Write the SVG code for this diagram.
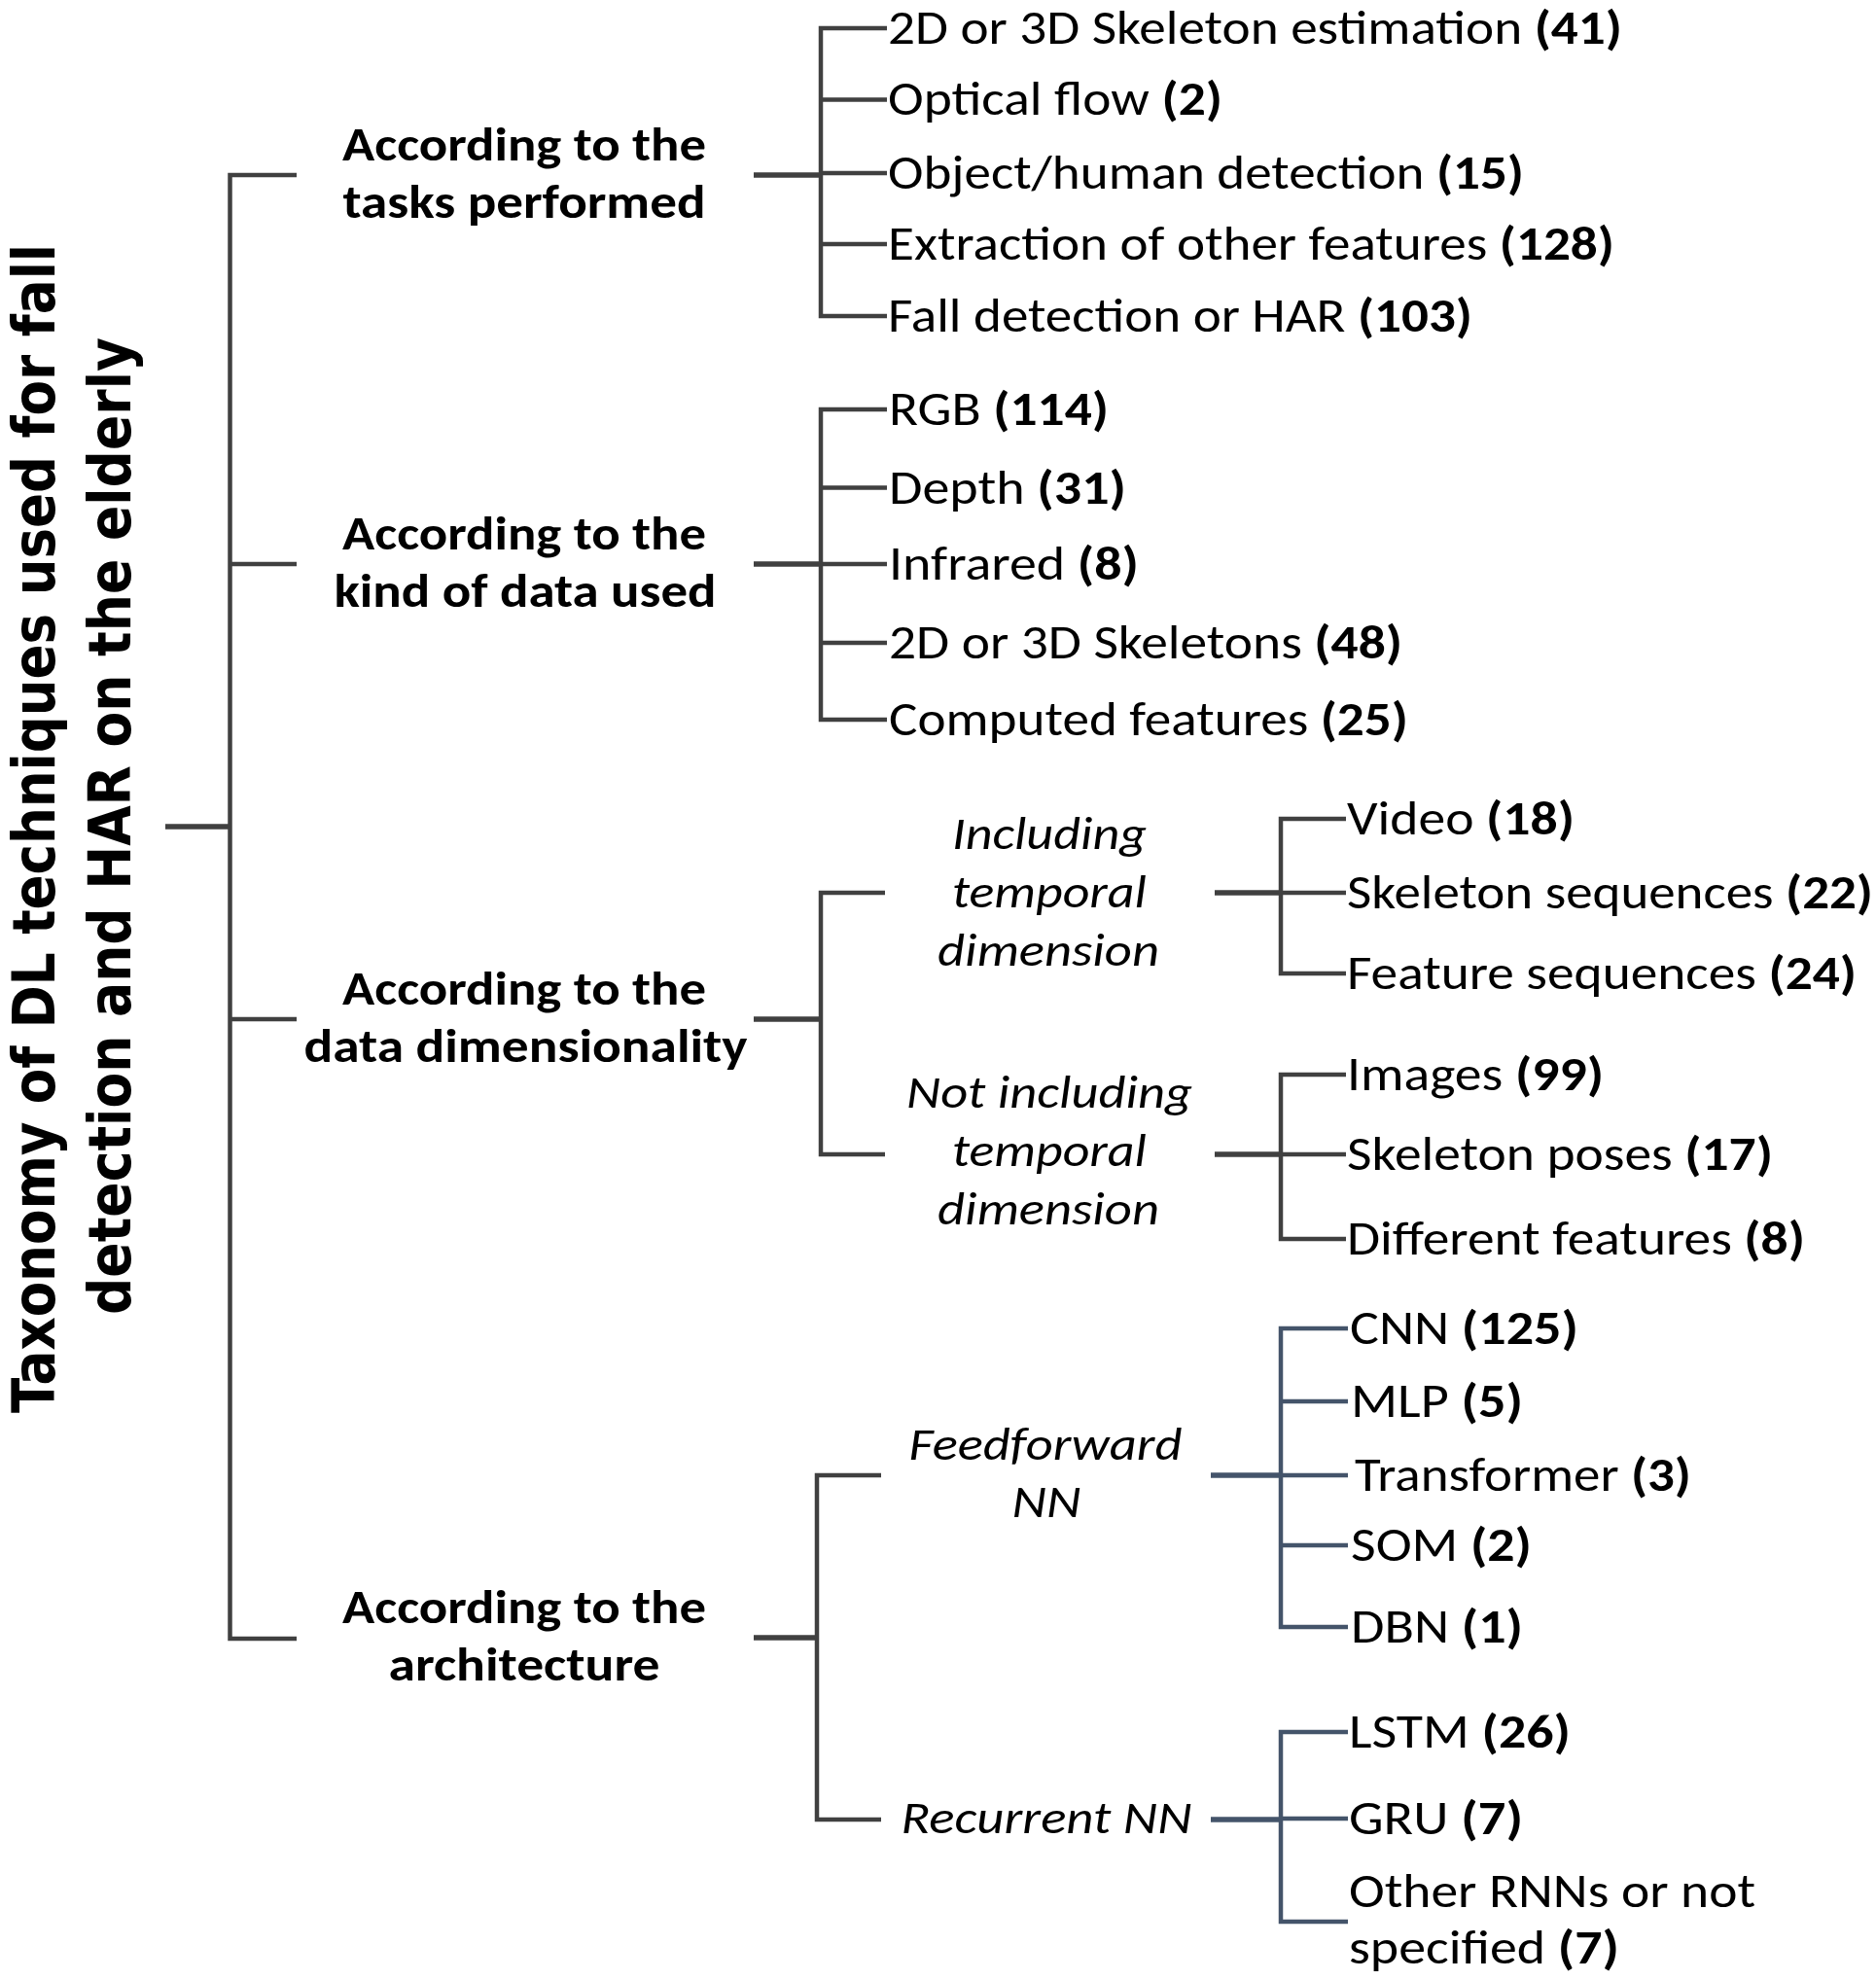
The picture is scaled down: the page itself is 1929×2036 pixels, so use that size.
<svg xmlns="http://www.w3.org/2000/svg" width="1929" height="2036" viewBox="0 0 1929 2036">
<style>
.ln{fill:none;stroke:#404040;stroke-width:4.5;stroke-linecap:butt;stroke-linejoin:miter}
.st{fill:none;stroke:#404040;stroke-width:5.5}
.bl{fill:none;stroke:#44546A;stroke-width:4.5;stroke-linejoin:miter}
.bls{fill:none;stroke:#44546A;stroke-width:5.5}
text{fill:#000;font-family:Carlito,Lato,"Open Sans",sans-serif}
.title{font-family:"DejaVu Sans",Verdana,sans-serif;font-weight:bold;font-size:60px;font-stretch:condensed}
.l1{font-weight:bold;font-size:48px}
.l2{font-style:italic;font-size:48px}
.lf{font-size:49px}
.b{font-weight:bold}
</style>
<rect width="1929" height="2036" fill="#fff"/>
<g id="connectors">
<path class="st" d="M170 850H236.5"/>
<path class="ln" d="M305 180H236.5V1685H305M236.5 580H305M236.5 1048H305"/>
<path class="st" d="M775 180H844"/>
<path class="ln" d="M912 29H844V325H912M844 102.5H912M844 178H912M844 251H912"/>
<path class="st" d="M775 580H844"/>
<path class="ln" d="M912 421H844V740H912M844 501.5H912M844 580H912M844 661H912"/>
<path class="st" d="M775 1048H844"/>
<path class="ln" d="M910 918H844V1187H910"/>
<path class="st" d="M1249 918H1317"/>
<path class="ln" d="M1384 842H1317V1001H1384M1317 918H1384"/>
<path class="st" d="M1249 1187H1317"/>
<path class="ln" d="M1384 1105H1317V1274H1384M1317 1187H1384"/>
<path class="st" d="M775 1684H840"/>
<path class="ln" d="M906 1517H840V1871H906"/>
<path class="bls" d="M1245 1517H1317"/>
<path class="bl" d="M1386 1366H1317V1673H1386M1317 1441H1386M1317 1517H1386M1317 1589H1386"/>
<path class="bls" d="M1245 1871H1317"/>
<path class="bl" d="M1386 1781H1317V1976H1386M1317 1870H1386"/>
</g>
<g id="root">
<text class="title" transform="translate(56,852) rotate(-90)" text-anchor="middle" textLength="1202" lengthAdjust="spacingAndGlyphs">Taxonomy of DL techniques used for fall</text>
<text class="title" transform="translate(134,849.5) rotate(-90)" text-anchor="middle" textLength="1005" lengthAdjust="spacingAndGlyphs">detection and HAR on the elderly</text>
</g>
<g id="tasks">
<text class="l1" x="539" y="165" text-anchor="middle" textLength="374" lengthAdjust="spacingAndGlyphs">According to the</text>
<text class="l1" x="539" y="223.5" text-anchor="middle" textLength="373" lengthAdjust="spacingAndGlyphs">tasks performed</text>
</g>
<g id="kind">
<text class="l1" x="539" y="565" text-anchor="middle" textLength="374" lengthAdjust="spacingAndGlyphs">According to the</text>
<text class="l1" x="540" y="623.5" text-anchor="middle" textLength="393" lengthAdjust="spacingAndGlyphs">kind of data used</text>
</g>
<g id="dimensionality">
<text class="l1" x="539" y="1033" text-anchor="middle" textLength="374" lengthAdjust="spacingAndGlyphs">According to the</text>
<text class="l1" x="540.5" y="1091.5" text-anchor="middle" textLength="456" lengthAdjust="spacingAndGlyphs">data dimensionality</text>
</g>
<g id="architecture">
<text class="l1" x="539" y="1669" text-anchor="middle" textLength="374" lengthAdjust="spacingAndGlyphs">According to the</text>
<text class="l1" x="539" y="1727.5" text-anchor="middle" textLength="279" lengthAdjust="spacingAndGlyphs">architecture</text>
</g>
<g id="including">
<text class="l2" x="1079" y="873" text-anchor="middle" textLength="200" lengthAdjust="spacingAndGlyphs">Including</text>
<text class="l2" x="1079" y="933" text-anchor="middle" textLength="200" lengthAdjust="spacingAndGlyphs">temporal</text>
<text class="l2" x="1078" y="993" text-anchor="middle" textLength="228" lengthAdjust="spacingAndGlyphs">dimension</text>
</g>
<g id="not-including">
<text class="l2" x="1079" y="1139" text-anchor="middle" textLength="294" lengthAdjust="spacingAndGlyphs">Not including</text>
<text class="l2" x="1079" y="1199" text-anchor="middle" textLength="200" lengthAdjust="spacingAndGlyphs">temporal</text>
<text class="l2" x="1078" y="1259" text-anchor="middle" textLength="228" lengthAdjust="spacingAndGlyphs">dimension</text>
</g>
<g id="feedforward">
<text class="l2" x="1075" y="1501" text-anchor="middle" textLength="281" lengthAdjust="spacingAndGlyphs">Feedforward</text>
<text class="l2" x="1076" y="1560" text-anchor="middle" textLength="71" lengthAdjust="spacingAndGlyphs">NN</text>
</g>
<g id="recurrent">
<text class="l2" x="1076" y="1885" text-anchor="middle" textLength="299" lengthAdjust="spacingAndGlyphs">Recurrent NN</text>
</g>
<g id="leaf-skeleton-estimation"><text class="lf" x="913" y="45" textLength="755" lengthAdjust="spacingAndGlyphs">2D or 3D Skeleton estimation <tspan class="b">(41)</tspan></text></g>
<g id="leaf-optical-flow"><text class="lf" x="913" y="118" textLength="344" lengthAdjust="spacingAndGlyphs">Optical flow <tspan class="b">(2)</tspan></text></g>
<g id="leaf-object-detection"><text class="lf" x="913" y="194" textLength="654" lengthAdjust="spacingAndGlyphs">Object/human detection <tspan class="b">(15)</tspan></text></g>
<g id="leaf-other-features"><text class="lf" x="913" y="267" textLength="747" lengthAdjust="spacingAndGlyphs">Extraction of other features <tspan class="b">(128)</tspan></text></g>
<g id="leaf-fall-detection"><text class="lf" x="913" y="341" textLength="601" lengthAdjust="spacingAndGlyphs">Fall detection or HAR <tspan class="b">(103)</tspan></text></g>
<g id="leaf-rgb"><text class="lf" x="914" y="437" textLength="226" lengthAdjust="spacingAndGlyphs">RGB <tspan class="b">(114)</tspan></text></g>
<g id="leaf-depth"><text class="lf" x="914" y="517.5" textLength="244" lengthAdjust="spacingAndGlyphs">Depth <tspan class="b">(31)</tspan></text></g>
<g id="leaf-infrared"><text class="lf" x="914" y="596" textLength="257" lengthAdjust="spacingAndGlyphs">Infrared <tspan class="b">(8)</tspan></text></g>
<g id="leaf-skeletons"><text class="lf" x="914" y="677" textLength="528" lengthAdjust="spacingAndGlyphs">2D or 3D Skeletons <tspan class="b">(48)</tspan></text></g>
<g id="leaf-computed"><text class="lf" x="914" y="756" textLength="534" lengthAdjust="spacingAndGlyphs">Computed features <tspan class="b">(25)</tspan></text></g>
<g id="leaf-video"><text class="lf" x="1385" y="858" textLength="234" lengthAdjust="spacingAndGlyphs">Video <tspan class="b">(18)</tspan></text></g>
<g id="leaf-skeleton-sequences"><text class="lf" x="1385" y="934" textLength="541" lengthAdjust="spacingAndGlyphs">Skeleton sequences <tspan class="b">(22)</tspan></text></g>
<g id="leaf-feature-sequences"><text class="lf" x="1385" y="1017" textLength="524" lengthAdjust="spacingAndGlyphs">Feature sequences <tspan class="b">(24)</tspan></text></g>
<g id="leaf-images"><text class="lf" x="1385" y="1121" textLength="264" lengthAdjust="spacingAndGlyphs">Images <tspan class="b">(99)</tspan></text></g>
<g id="leaf-skeleton-poses"><text class="lf" x="1385" y="1203" textLength="438" lengthAdjust="spacingAndGlyphs">Skeleton poses <tspan class="b">(17)</tspan></text></g>
<g id="leaf-different-features"><text class="lf" x="1385" y="1290" textLength="471" lengthAdjust="spacingAndGlyphs">Different features <tspan class="b">(8)</tspan></text></g>
<g id="leaf-cnn"><text class="lf" x="1388" y="1382" textLength="235" lengthAdjust="spacingAndGlyphs">CNN <tspan class="b">(125)</tspan></text></g>
<g id="leaf-mlp"><text class="lf" x="1389" y="1457" textLength="177" lengthAdjust="spacingAndGlyphs">MLP <tspan class="b">(5)</tspan></text></g>
<g id="leaf-transformer"><text class="lf" x="1393" y="1533" textLength="346" lengthAdjust="spacingAndGlyphs">Transformer <tspan class="b">(3)</tspan></text></g>
<g id="leaf-som"><text class="lf" x="1389" y="1605" textLength="186" lengthAdjust="spacingAndGlyphs">SOM <tspan class="b">(2)</tspan></text></g>
<g id="leaf-dbn"><text class="lf" x="1389" y="1689" textLength="177" lengthAdjust="spacingAndGlyphs">DBN <tspan class="b">(1)</tspan></text></g>
<g id="leaf-lstm"><text class="lf" x="1387" y="1797" textLength="228" lengthAdjust="spacingAndGlyphs">LSTM <tspan class="b">(26)</tspan></text></g>
<g id="leaf-gru"><text class="lf" x="1387" y="1886" textLength="179" lengthAdjust="spacingAndGlyphs">GRU <tspan class="b">(7)</tspan></text></g>
<g id="leaf-other-rnns">
<text class="lf" x="1387" y="1961" textLength="418" lengthAdjust="spacingAndGlyphs">Other RNNs or not</text>
<text class="lf" x="1387" y="2019" textLength="278" lengthAdjust="spacingAndGlyphs">specified <tspan class="b">(7)</tspan></text>
</g>
</svg>
